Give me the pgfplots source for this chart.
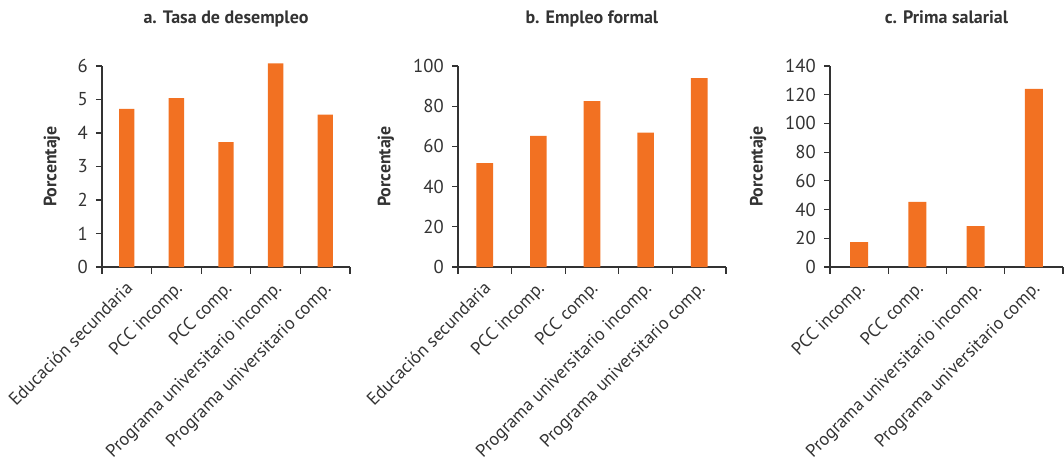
\documentclass[border=0pt]{standalone}
\usepackage{fontspec}
\setmainfont{PT Sans}
\usepackage{pgfplots}
\pgfplotsset{compat=1.18}
\definecolor{barorange}{HTML}{F27122}
\definecolor{axgray}{HTML}{333333}
\pgfplotsset{
  panel/.style={
    scale only axis,
    height=150.75pt,
    ymin=0,
    xmin=-0.5, xmax=4.5,
    axis x line*=bottom,
    axis y line*=left,
    axis line style={axgray, line width=0.8pt},
    every tick/.style={axgray, line width=0.8pt},
    tick align=outside,
    xtick pos=bottom, ytick pos=left,
    xtick={0,1,2,3,4},
    major x tick style={draw=none},
    minor xtick={-0.5,0.5,1.5,2.5,3.5,4.5},
    minor tick length=5pt,
    major tick length=4.5pt,
    tick label style={font=\fontsize{13.5}{15}\selectfont, text=axgray},
    yticklabel style={inner sep=0pt, xshift=-6pt, font=\fontsize{14}{16}\selectfont},
    xticklabel style={rotate=45, anchor=north east, inner sep=0pt, xshift=-5pt, yshift=-2.5pt},
    /pgf/number format/assume math mode=true,
    ylabel={Porcentaje},
    ylabel style={font=\bfseries\fontsize{13.4}{15}\selectfont, text=axgray, at={(axis description cs:0,0.5)}, anchor=center},
    title style={font=\bfseries\fontsize{13.5}{15}\selectfont, text=axgray, at={(axis description cs:0.5,1)}, anchor=base, yshift=26.25pt},
    ybar, bar width=0.31,
    enlarge y limits=false,
    clip=false,
  }
}
\begin{document}
\begin{tikzpicture}
\useasboundingbox (0,0) rectangle (798pt,345.75pt);
% panel a
\begin{axis}[panel, at={(76.5pt,145.5pt)}, anchor=south west, width=186pt,
  ymax=6, ytick={0,1,...,6},
  xticklabels={Educación secundaria, PCC incomp., PCC comp., Programa universitario incomp., Programa universitario comp.},
  ylabel style={yshift=37.5pt},
  title={a. Tasa de desempleo}]
\addplot[fill=barorange, draw=none] coordinates {(0,4.72) (1,5.04) (2,3.73) (3,6.08) (4,4.55)};
\end{axis}
% panel b
\begin{axis}[panel, at={(343.5pt,145.5pt)}, anchor=south west, width=201pt,
  ymax=100, ytick={0,20,...,100},
  xticklabels={Educación secundaria, PCC incomp., PCC comp., Programa universitario incomp., Programa universitario comp.},
  ylabel style={yshift=54pt},
  title={b. Empleo formal}]
\addplot[fill=barorange, draw=none] coordinates {(0,51.7) (1,65.2) (2,82.5) (3,66.9) (4,94.0)};
\end{axis}
% panel c
\begin{axis}[panel, at={(622.5pt,145.5pt)}, anchor=south west, width=174.75pt,
  xmin=-0.5, xmax=3.5,
  xtick={0,1,2,3}, minor xtick={-0.5,0.5,1.5,2.5,3.5},
  ymax=140, ytick={0,20,...,140},
  xticklabels={PCC incomp., PCC comp., Programa universitario incomp., Programa universitario comp.},
  ylabel style={yshift=54pt},
  title={c. Prima salarial}]
\addplot[fill=barorange, draw=none] coordinates {(0,17.4) (1,45.3) (2,28.5) (3,124.0)};
\end{axis}
\end{tikzpicture}
\end{document}
